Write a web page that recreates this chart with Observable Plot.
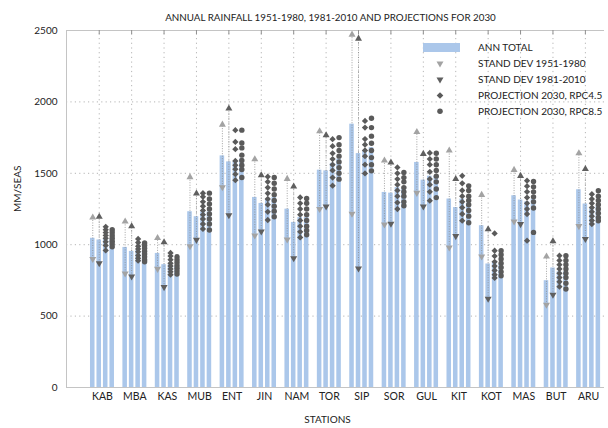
<!DOCTYPE html>
<html><head><meta charset="utf-8">
<script src="https://cdn.jsdelivr.net/npm/d3@7"></script>
<script src="https://cdn.jsdelivr.net/npm/@observablehq/plot@0.6"></script>
<style>
body{margin:0;background:#fff;font-family:Lato,"Open Sans",sans-serif}
#chart{width:608px;height:428px}
</style>
</head><body><div id="chart"></div>
<script>
const stations = ["KAB","MBA","KAS","MUB","ENT","JIN","NAM","TOR","SIP","SOR","GUL","KIT","KOT","MAS","BUT","ARU"];
const ann1951 = [1045,981,939,1231,1622,1331,1249,1522,1844,1366,1576,1320,1133,1343,748,1385];
const sd1951  = [145,182,108,242,219,267,212,272,627,224,213,340,216,181,169,255];
const ann1981 = [1033,953,860,1196,1580,1289,1156,1517,1638,1361,1452,1260,865,1313,837,1285];
const sd1981  = [163,176,157,162,374,197,251,249,805,214,184,200,243,169,187,245];
const proj45  = [1040,960,860,1230,1580,1320,1190,1570,1660,1400,1480,1320,880,1300,810,1250];
const proj85  = [1040,950,850,1230,1600,1330,1190,1600,1680,1390,1480,1290,860,1320,810,1270];
const rcp45Models = [
  [1125,1105,1085,1065,1045,1020,995,960],
  [1040,1015,990,970,950,925,905,888],
  [942,920,895,870,850,830,810,790],
  [1361,1335,1300,1270,1240,1210,1180,1145,1110],
  [1802,1720,1669,1587,1557,1529,1494,1452],
  [1476,1440,1400,1360,1320,1280,1230,1173],
  [1331,1290,1250,1210,1170,1130,1090,1051],
  [1739,1690,1640,1600,1560,1520,1470,1413],
  [1867,1820,1740,1700,1660,1620,1560,1499],
  [1541,1500,1460,1420,1380,1340,1295,1250],
  [1643,1600,1560,1510,1460,1420,1370,1308],
  [1482,1430,1380,1340,1300,1260,1215,1168],
  [1079,958,920,880,850,820,790,767],
  [1448,1410,1370,1330,1290,1250,1215,1028],
  [923,890,860,830,800,770,740,706],
  [1354,1320,1290,1260,1230,1200,1170,1145]
];
const rcp85Models = [
  [1105,1085,1065,1045,1025,1005,985],
  [1012,995,975,955,935,915,895,881],
  [916,895,875,855,835,815,795],
  [1361,1320,1285,1250,1215,1180,1145,1103],
  [1802,1713,1678,1627,1590,1557,1527,1471],
  [1471,1430,1390,1350,1310,1270,1235,1196],
  [1324,1290,1250,1210,1170,1130,1100,1070],
  [1750,1700,1660,1620,1580,1540,1500,1459],
  [1886,1820,1760,1710,1660,1610,1560,1517],
  [1506,1470,1440,1400,1370,1340,1300,1273],
  [1640,1600,1560,1520,1480,1440,1390,1330],
  [1412,1380,1340,1310,1280,1240,1200,1154],
  [958,930,900,870,840,810,783],
  [1443,1405,1370,1335,1300,1257,1086],
  [923,890,860,830,800,770,730,690],
  [1378,1340,1310,1280,1250,1220,1190,1168]
];
const yTicks = [0,500,1000,1500,2000,2500];
const legendLabels = ["ANN TOTAL","STAND DEV 1951-1980","STAND DEV 1981-2010","PROJECTION 2030, RPC4.5","PROJECTION 2030, RPC8.5"];
const title = "ANNUAL RAINFALL 1951-1980, 1981-2010 AND PROJECTIONS FOR 2030";

const OFF = [-0.3,-0.1,0.1,0.3], BW = 0.14;
const idx = stations.map((s,i)=>i);
const series = [ann1951, ann1981, proj45, proj85];
const bars = series.flatMap((arr,k)=>arr.map((v,i)=>({i,k,v})));
const sdRows = [
  ...ann1951.map((m,i)=>({i,k:0,m,s:sd1951[i]})),
  ...ann1981.map((m,i)=>({i,k:1,m,s:sd1981[i]}))
];
const m45 = rcp45Models.flatMap((a,i)=>a.map(v=>({i,v})));
const m85 = rcp85Models.flatMap((a,i)=>a.map(v=>({i,v})));
const BAR = "#abc7ea", LIGHT = "#a3a3a3", DARK = "#5f5f5f", MARK = "#5a5a5a";
const xs = (d)=>d.i+OFF[d.k];

const plot = Plot.plot({
  width:608, height:428, marginLeft:66, marginRight:4, marginTop:30, marginBottom:41,
  x:{domain:[-1.11,15.49], axis:null},
  y:{domain:[0,2500], axis:null},
  style:{fontFamily:"Lato, 'Open Sans', sans-serif", fontSize:"10px", color:"#222", background:"#fff", overflow:"visible"},
  marks:[
    Plot.ruleY([500,1000,1500,2000], {stroke:"#b5b5b5", strokeDasharray:"1.2,3.2"}),
    Plot.ruleX(idx, {x:i=>i-0.1, y1:0, y2:2500, stroke:"#b5b5b5", strokeDasharray:"1.2,3.5"}),
    Plot.rect(bars, {x1:d=>xs(d)-BW/2, x2:d=>xs(d)+BW/2, y1:0, y2:d=>d.v, fill:BAR}),
    Plot.ruleX(sdRows, {x:xs, y1:d=>d.m-d.s, y2:d=>d.m+d.s, stroke:"#8c8c8c", strokeWidth:0.8, strokeDasharray:"1,1.5"}),
    Plot.dot(sdRows, {x:xs, y:d=>d.m+d.s, symbol:"triangle", r:2.6, fill:d=>d.k===0?LIGHT:DARK, stroke:null}),
    Plot.dot(sdRows, {x:xs, y:d=>d.m-d.s, symbol:"triangle", r:2.6, rotate:180, fill:d=>d.k===0?LIGHT:DARK, stroke:null}),
    Plot.dot(m45, {x:d=>d.i+OFF[2], y:"v", symbol:"square", r:2.5, rotate:45, fill:MARK, stroke:null}),
    Plot.dot(m85, {x:d=>d.i+OFF[3], y:"v", symbol:"circle", r:2.7, fill:MARK, stroke:null}),
    Plot.ruleY([0,2500], {stroke:"#c4c4c4"}),
    Plot.ruleX([-1.11], {y1:0, y2:2500, stroke:"#c4c4c4"}),
    Plot.ruleX(idx, {x:i=>i-0.1, y1:2500, y2:2470, stroke:"#8f8f8f"}),
    Plot.text(yTicks, {y:d=>d, text:d=>String(d), frameAnchor:"left", dx:-9, textAnchor:"end", fontSize:10, fill:"#222"}),
    Plot.text(stations, {x:(d,i)=>i, text:d=>d, frameAnchor:"bottom", dy:12, fontSize:10.5, fill:"#222"}),
    Plot.text(["STATIONS"], {frameAnchor:"bottom", dx:-8, dy:35, fontSize:10, fill:"#222"}),
    Plot.text(["MM/SEAS"], {frameAnchor:"left", dx:-49, dy:3, rotate:-90, fontSize:10, fill:"#222"}),
    Plot.text([title], {frameAnchor:"top", dx:-5, dy:-16, fontSize:9.8, fill:"#222"})
  ]
});
document.getElementById("chart").appendChild(plot);

// legend
const svg = d3.select(plot);
const g = svg.append("g").attr("font-family","Lato, 'Open Sans', sans-serif").attr("font-size",10).attr("fill","#222").attr("text-anchor","start");
const rowsY = [47.5,63.5,79.5,95.5,111.3];
g.append("rect").attr("x",423).attr("y",43).attr("width",37).attr("height",9).attr("fill",BAR);
const sym = d3.symbol();
g.append("path").attr("d",sym.type(d3.symbolTriangle).size(21)()).attr("transform",`translate(440,${rowsY[1]}) rotate(180)`).attr("fill",LIGHT);
g.append("path").attr("d",sym.type(d3.symbolTriangle).size(21)()).attr("transform",`translate(440,${rowsY[2]}) rotate(180)`).attr("fill",DARK);
g.append("path").attr("d",sym.type(d3.symbolSquare).size(22)()).attr("transform",`translate(440,${rowsY[3]}) rotate(45)`).attr("fill",MARK);
g.append("path").attr("d",sym.type(d3.symbolCircle).size(24)()).attr("transform",`translate(440,${rowsY[4]})`).attr("fill",MARK);
legendLabels.forEach((t,k)=>{
  g.append("text").attr("x",478).attr("y",rowsY[k]).attr("dy","0.35em").attr("text-anchor","start").text(t);
});
</script>
</body></html>
